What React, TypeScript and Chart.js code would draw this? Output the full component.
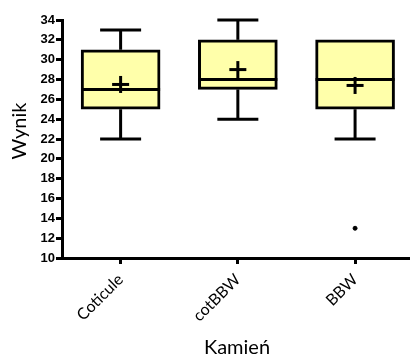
import { useEffect, useRef } from 'react';
import { Chart, registerables } from 'chart.js';

Chart.register(...registerables);

const categories = ['Coticule', 'cotBBW', 'BBW'];
const whiskerLow = [22, 24, 22];
const q1 = [25, 27, 25];
const median = [27, 28, 28];
const q3 = [31, 32, 32];
const whiskerHigh = [33, 34, 32];
const means = [27.5, 29, 27.4];
const outlierCategory = [2];
const outlierValue = [13];
const yMin = 10;
const yMax = 34;
const yStep = 2;

const BOX_W = 79;
const CAP_HALF = 20.5;
const PLUS_HALF = 8.5;

export default function App() {
  const ref = useRef<HTMLCanvasElement>(null);

  useEffect(() => {
    document.body.style.margin = '0';
    const canvas = ref.current;
    if (!canvas) return;

    const boxPlugin = {
      id: 'boxParts',
      afterDatasetsDraw(chart: any) {
        const { ctx } = chart;
        const x = chart.scales.x;
        const y = chart.scales.y;
        ctx.save();
        ctx.strokeStyle = '#000';
        ctx.lineWidth = 3;
        ctx.lineCap = 'butt';
        const seg = (x1: number, y1: number, x2: number, y2: number) => {
          ctx.beginPath();
          ctx.moveTo(x1, y1);
          ctx.lineTo(x2, y2);
          ctx.stroke();
        };
        categories.forEach((_, i) => {
          const cx = x.getPixelForValue(i);
          const pm = y.getPixelForValue(median[i]);
          seg(cx - BOX_W / 2, pm, cx + BOX_W / 2, pm);
          if (whiskerHigh[i] > q3[i]) {
            const pt = y.getPixelForValue(q3[i]);
            const ph = y.getPixelForValue(whiskerHigh[i]);
            seg(cx, pt, cx, ph);
            seg(cx - CAP_HALF, ph, cx + CAP_HALF, ph);
          }
          if (whiskerLow[i] < q1[i]) {
            const pb = y.getPixelForValue(q1[i]);
            const pl = y.getPixelForValue(whiskerLow[i]);
            seg(cx, pb, cx, pl);
            seg(cx - CAP_HALF, pl, cx + CAP_HALF, pl);
          }
          const pmean = y.getPixelForValue(means[i]);
          seg(cx - PLUS_HALF, pmean, cx + PLUS_HALF, pmean);
          seg(cx, pmean - PLUS_HALF, cx, pmean + PLUS_HALF);
        });
        ctx.restore();
      },
      afterDraw(chart: any) {
        const { ctx, chartArea } = chart;
        ctx.save();
        ctx.fillStyle = '#000';
        ctx.textAlign = 'center';
        ctx.textBaseline = 'middle';
        ctx.font = '20px Lato';
        ctx.fillText('Kamień', chartArea.left + 175, 348);
        ctx.translate(20, 131);
        ctx.rotate(-Math.PI / 2);
        ctx.fillText('Wynik', 0, 0);
        ctx.restore();
      },
    };

    const chart = new Chart(canvas, {
      type: 'bar',
      data: {
        datasets: [
          {
            type: 'bar',
            data: categories.map((_, i) => ({ x: i, y: [q1[i], q3[i]] })) as any,
            backgroundColor: '#FFFFAA',
            borderColor: '#000',
            borderWidth: 3,
            borderSkipped: false,
            barThickness: BOX_W,
          } as any,
          {
            type: 'scatter',
            data: outlierCategory.map((c, i) => ({ x: c, y: outlierValue[i] })),
            backgroundColor: '#000',
            borderColor: '#000',
            pointRadius: 2,
            pointHoverRadius: 2,
          } as any,
        ],
      },
      options: {
        responsive: false,
        animation: false,
        layout: { padding: { top: 20, right: 0, left: 0, bottom: 0 } },
        plugins: { legend: { display: false }, tooltip: { enabled: false } },
        scales: {
          x: {
            type: 'linear',
            offset: false,
            min: -0.5,
            max: 2.46,
            afterBuildTicks: (scale: any) => {
              scale.ticks = categories.map((_, i) => ({ value: i }));
            },
            afterFit: (scale: any) => {
              scale.height = 99;
              scale.paddingLeft = 0;
              scale.paddingRight = 0;
            },
            ticks: {
              autoSkip: false,
              maxRotation: 45,
              minRotation: 45,
              color: '#000',
              padding: 6,
              font: { family: 'Lato', size: 16 },
              callback: (v: any) => categories[v as number] ?? '',
            },
            grid: {
              display: true,
              offset: false,
              drawOnChartArea: false,
              drawTicks: true,
              tickLength: 6,
              tickWidth: 3,
              tickColor: '#000',
            },
            border: { display: true, color: '#000', width: 3 },
          },
          y: {
            type: 'linear',
            min: yMin,
            max: yMax,
            afterFit: (scale: any) => {
              scale.width = 62;
              scale.paddingTop = 0;
              scale.paddingBottom = 0;
            },
            ticks: {
              stepSize: yStep,
              color: '#000',
              padding: 1,
              font: { family: 'Liberation Sans', size: 13, weight: 'bold' },
            },
            grid: {
              display: true,
              drawOnChartArea: false,
              drawTicks: true,
              tickLength: 6,
              tickWidth: 3,
              tickColor: '#000',
            },
            border: { display: true, color: '#000', width: 3 },
          },
        },
      },
      plugins: [boxPlugin],
    });

    return () => chart.destroy();
  }, []);

  return (
    <div style={{ width: 412, height: 357 }}>
      <canvas ref={ref} width={412} height={357} />
    </div>
  );
}
